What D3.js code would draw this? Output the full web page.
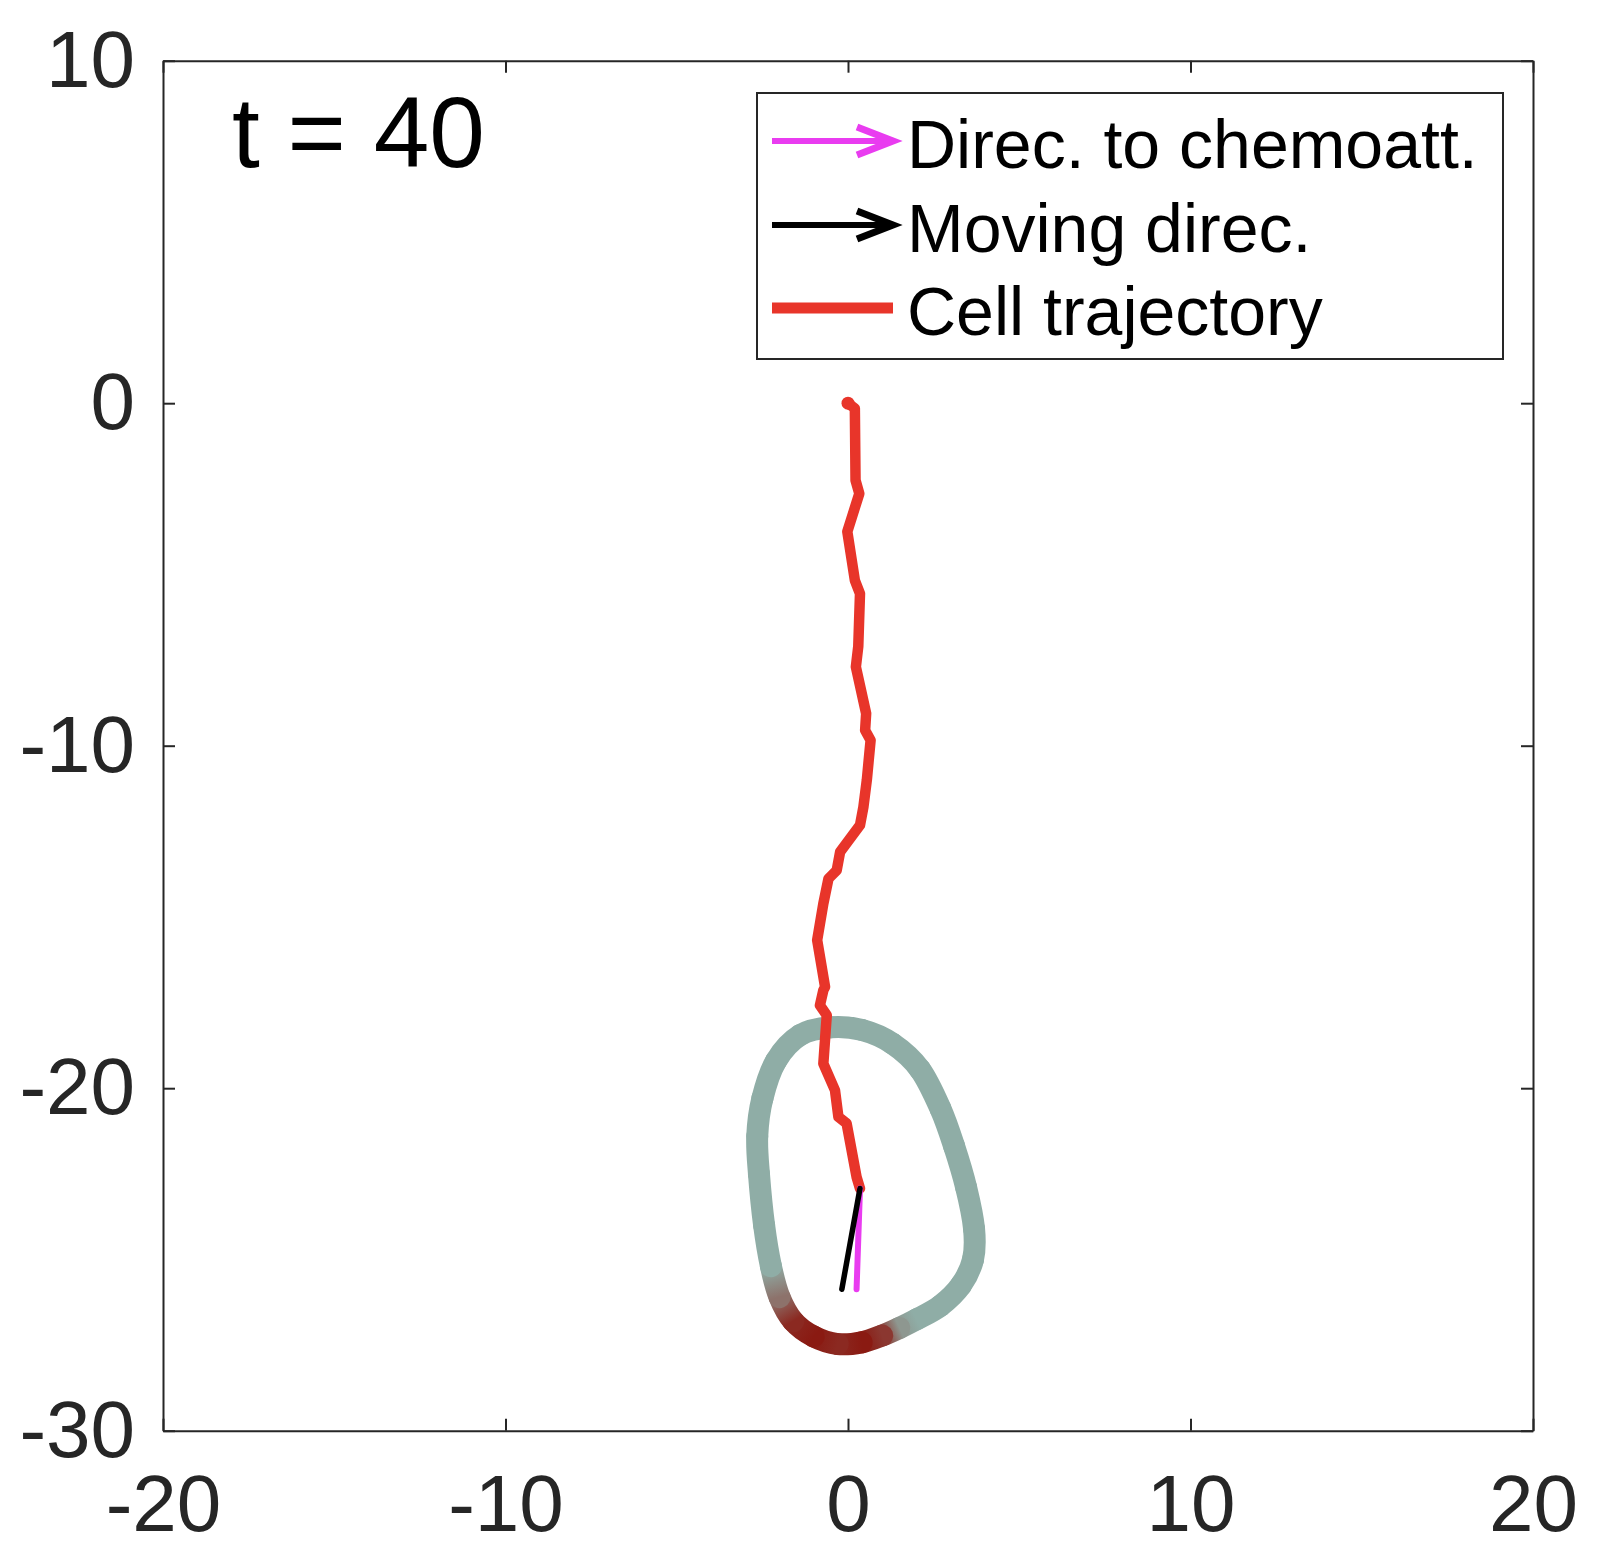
<!DOCTYPE html>
<html>
<head>
<meta charset="utf-8">
<script src="https://cdn.jsdelivr.net/npm/d3@7"></script>
<style>
  body { margin: 0; background: #fff; }
  text { font-family: "Liberation Sans", Arial, Helvetica, sans-serif; }
</style>
</head>
<body>
<div id="chart-area"></div>
<script>
// axis ticks
var xTicks = [-20, -10, 0, 10, 20];
var yTicks = [-30, -20, -10, 0, 10];

// cell trajectory (centre positions)
var trajX = [0.0, 0.2, 0.22, 0.33, -0.02, 0.2, 0.35, 0.3, 0.23, 0.53, 0.5, 0.66, 0.55, 0.45, 0.35,
  -0.23, -0.33, -0.57, -0.72, -0.9, -0.67, -0.72, -0.82, -0.62, -0.72, -0.38, -0.28, -0.04, 0.25, 0.35];
var trajY = [0.0, -0.15, -2.25, -2.64, -3.75, -5.17, -5.56, -7.1, -7.7, -9.06, -9.55, -9.84, -11.0, -11.79, -12.32,
  -13.1, -13.64, -13.88, -14.61, -15.68, -17.04, -17.14, -17.58, -17.87, -19.28, -20.06, -20.84, -21.03, -22.59, -22.93];

// cell outline and the signal along it (0 = none, 1 = strong)
var cellX = [-0.5, 0.4, 1.3, 2.1, 2.7, 3.1, 3.45, 3.68, 3.65, 3.3, 2.7, 2.0, 1.5, 1.0, 0.4, -0.3,
  -1.0, -1.6, -2.0, -2.25, -2.45, -2.6, -2.65, -2.5, -2.1, -1.4];
var cellY = [-18.22, -18.3, -18.7, -19.45, -20.6, -21.7, -22.9, -24.1, -25.0, -25.75, -26.35, -26.75, -27.0, -27.22, -27.42, -27.47,
  -27.25, -26.8, -26.1, -25.2, -24.0, -22.5, -21.4, -20.3, -19.2, -18.45];
var cellSignal = [0, 0, 0, 0, 0, 0, 0, 0, 0, 0, 0, 0, 0.15, 0.8, 1, 0.9,
  1, 0.9, 0.4, 0, 0, 0, 0, 0, 0, 0];

// direction arrows from the cell centre
var arrowStart = [0.35, -22.93];
var chemoEnd = [0.25, -25.87];
var moveEnd = [-0.18, -25.87];

var timeLabel = "t = 40";
var legendLabels = ["Direc. to chemoatt.", "Moving direc.", "Cell trajectory"];
var legendColors = ["#e93cf0", "#000000", "#e8352a"];

var width = 1598, height = 1566;
var plot = { left: 163, right: 1533, top: 60.7, bottom: 1430.7 };
var axisColor = "#262626";

var svg = d3.select("#chart-area")
  .append("svg")
  .attr("width", width)
  .attr("height", height)
  .style("background", "#fff");

var x = d3.scaleLinear().domain([-20, 20]).range([plot.left, plot.right]);
var y = d3.scaleLinear().domain([-30, 10]).range([plot.bottom, plot.top]);

var lineGen = d3.line()
  .x(function(d) { return x(d[0]); })
  .y(function(d) { return y(d[1]); });

// cell outline: one smooth (cardinal) piece per pair of points,
// coloured by the signal with a gradient along the piece
var grey = "#8fada6", dark = "#8a1a12";
var colorOf = d3.interpolateRgb(grey, dark);
var cellPts = cellX.map(function(d, i) { return [x(d), y(cellY[i])]; });
var n = cellPts.length;
var defs = svg.append("defs");
var cellG = svg.append("g");

cellPts.forEach(function(p1, i) {
  var p0 = cellPts[(i - 1 + n) % n],
    p2 = cellPts[(i + 1) % n],
    p3 = cellPts[(i + 2) % n];
  var c1 = [p1[0] + (p2[0] - p0[0]) / 6, p1[1] + (p2[1] - p0[1]) / 6];
  var c2 = [p2[0] - (p3[0] - p1[0]) / 6, p2[1] - (p3[1] - p1[1]) / 6];
  var pth = d3.path();
  pth.moveTo(p1[0], p1[1]);
  pth.bezierCurveTo(c1[0], c1[1], c2[0], c2[1], p2[0], p2[1]);

  var grad = defs.append("linearGradient")
    .attr("id", "seg" + i)
    .attr("gradientUnits", "userSpaceOnUse")
    .attr("x1", p1[0]).attr("y1", p1[1])
    .attr("x2", p2[0]).attr("y2", p2[1]);
  grad.append("stop").attr("offset", 0).attr("stop-color", colorOf(cellSignal[i]));
  grad.append("stop").attr("offset", 1).attr("stop-color", colorOf(cellSignal[(i + 1) % n]));

  cellG.append("path")
    .attr("d", pth.toString())
    .attr("fill", "none")
    .attr("stroke", "url(#seg" + i + ")")
    .attr("stroke-width", 22)
    .attr("stroke-linecap", "round");
});

// trajectory
var trajPts = trajX.map(function(d, i) { return [d, trajY[i]]; });
svg.append("path")
  .datum(trajPts)
  .attr("d", lineGen)
  .attr("fill", "none")
  .attr("stroke", legendColors[2])
  .attr("stroke-width", 10.5)
  .attr("stroke-linejoin", "round")
  .attr("stroke-linecap", "round");

svg.append("circle")
  .attr("cx", x(trajX[0]))
  .attr("cy", y(trajY[0]))
  .attr("r", 6.5)
  .attr("fill", legendColors[2]);

// direction arrows
svg.append("line")
  .attr("x1", x(arrowStart[0])).attr("y1", y(arrowStart[1]))
  .attr("x2", x(chemoEnd[0])).attr("y2", y(chemoEnd[1]))
  .attr("stroke", legendColors[0])
  .attr("stroke-width", 6)
  .attr("stroke-linecap", "round");

svg.append("line")
  .attr("x1", x(arrowStart[0])).attr("y1", y(arrowStart[1]))
  .attr("x2", x(moveEnd[0])).attr("y2", y(moveEnd[1]))
  .attr("stroke", legendColors[1])
  .attr("stroke-width", 5.5)
  .attr("stroke-linecap", "round");

// axes
var tickLen = 12;
var fmt = function(d) { return String(d); };
svg.append("g")
  .attr("transform", "translate(0," + plot.bottom + ")")
  .call(d3.axisBottom(x).tickValues(xTicks).tickFormat(fmt).tickSizeInner(-tickLen).tickSizeOuter(0).tickPadding(44));
svg.append("g")
  .attr("transform", "translate(" + plot.left + ",0)")
  .call(d3.axisLeft(y).tickValues(yTicks).tickFormat(fmt).tickSizeInner(-tickLen).tickSizeOuter(0).tickPadding(28));
svg.append("g")
  .attr("transform", "translate(0," + plot.top + ")")
  .call(d3.axisTop(x).tickValues(xTicks).tickSizeInner(-tickLen).tickSizeOuter(0).tickFormat(""));
svg.append("g")
  .attr("transform", "translate(" + plot.right + ",0)")
  .call(d3.axisRight(y).tickValues(yTicks).tickSizeInner(-tickLen).tickSizeOuter(0).tickFormat(""));

svg.selectAll(".domain").attr("stroke", axisColor).attr("stroke-width", 2);
svg.selectAll(".tick line").attr("stroke", axisColor).attr("stroke-width", 2);
svg.selectAll(".tick text")
  .attr("fill", axisColor)
  .attr("font-size", "80px")
  .attr("font-family", "'Liberation Sans', Arial, Helvetica, sans-serif");

// time label
svg.append("text")
  .attr("x", 232)
  .attr("y", 167)
  .attr("font-size", "100px")
  .attr("fill", "#000")
  .text(timeLabel);

// legend
var legend = svg.append("g");
legend.append("rect")
  .attr("x", 757).attr("y", 93)
  .attr("width", 746).attr("height", 266)
  .attr("fill", "#fff")
  .attr("stroke", axisColor)
  .attr("stroke-width", 2);

var rowY = [141, 225, 308];
var lx1 = 772, lx2 = 893;
legendLabels.forEach(function(label, i) {
  var ry = rowY[i];
  if (i < 2) {
    legend.append("line")
      .attr("x1", lx1).attr("y1", ry).attr("x2", lx2 - 3).attr("y2", ry)
      .attr("stroke", legendColors[i])
      .attr("stroke-width", 6);
    legend.append("path")
      .attr("d", "M" + (lx2 - 36) + "," + (ry - 14) + "L" + lx2 + "," + ry + "L" + (lx2 - 36) + "," + (ry + 14))
      .attr("fill", "none")
      .attr("stroke", legendColors[i])
      .attr("stroke-width", 7)
      .attr("stroke-linejoin", "miter");
  } else {
    legend.append("line")
      .attr("x1", lx1).attr("y1", ry).attr("x2", lx2).attr("y2", ry)
      .attr("stroke", legendColors[i])
      .attr("stroke-width", 11);
  }
  legend.append("text")
    .attr("x", 907)
    .attr("y", ry + 27)
    .attr("font-size", "68px")
    .attr("fill", "#000")
    .text(label);
});
</script>
</body>
</html>
